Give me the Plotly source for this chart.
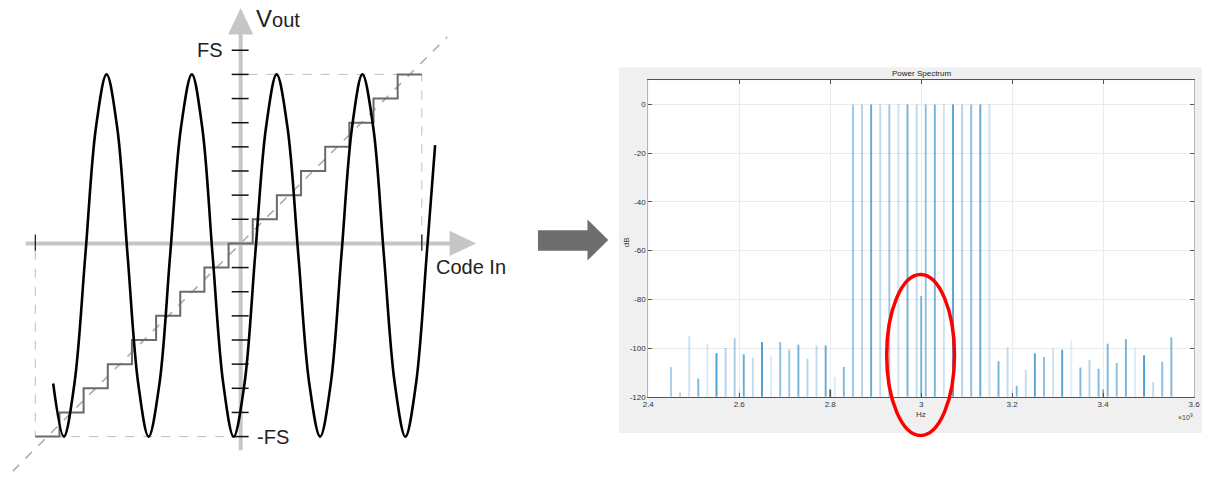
import plotly.graph_objects as go

W, H = 1209, 478

# ---------------- Left diagram (units = 1 LSB) ----------------
codes = list(range(-8, 8))              # quantizer output codes
fs_level = 8                            # FS tick level
tick_levels = [c for c in codes if c != 0] + [fs_level]

# sine wave (x, y in LSB units)
wave_x = [-7.76, -7.32, -6.88, -6.43, -5.99, -5.55, -5.11, -4.68, -4.24, -3.81,
          -3.36, -2.92, -2.47, -2.02, -1.59, -1.16, -0.72, -0.29, 0.16, 0.60,
          1.05, 1.49, 1.94, 2.39, 2.84, 3.29, 3.73, 4.17, 4.61, 5.04,
          5.49, 5.93, 6.38, 6.82, 7.26, 7.70, 8.05]
wave_y = [-5.80, -8.00, -5.80, -0.50, 4.80, 7.00, 4.80, -0.50, -5.80, -8.00,
          -5.80, -0.50, 4.80, 7.00, 4.80, -0.50, -5.80, -8.00, -5.80, -0.50,
          4.80, 7.00, 4.80, -0.50, -5.80, -8.00, -5.80, -0.50, 4.80, 7.00,
          4.80, -0.50, -5.80, -8.00, -5.80, -0.50, 4.07]

# ---------------- Power spectrum (x in 1e9 Hz, y in dB) ----------------
tone_freqs = [2.85, 2.87, 2.89, 2.91, 2.93, 2.95, 2.97, 2.99,
              3.01, 3.03, 3.05, 3.07, 3.09, 3.11, 3.13, 3.15]
tone_db = [0] * 16
tone_alpha = [0.4, 0.3, 0.6, 0.25, 0.4, 0.2, 0.55, 0.25,
              0.45, 0.55, 0.2, 0.65, 0.3, 0.45, 0.6, 0.2]

spur_freqs_lo = [2.45, 2.47, 2.49, 2.51, 2.53, 2.55, 2.57, 2.59, 2.61, 2.63,
                 2.65, 2.67, 2.69, 2.71, 2.73, 2.75, 2.77, 2.79, 2.81, 2.83]
spur_db_lo = [-107.8, -118.2, -94.9, -112.5, -98.3, -102.1, -100.0, -96.0, -102.5, -104.0,
              -97.5, -103.3, -97.5, -100.7, -98.6, -104.4, -98.9, -98.9, -111.9, -107.8]
spur_alpha_lo = [0.35, 0.3, 0.2, 0.5, 0.15, 0.7, 0.3, 0.35, 0.6, 0.25,
                 0.7, 0.15, 0.45, 0.4, 0.55, 0.3, 0.25, 0.6, 0.15, 0.5]

spur_freqs_hi = [3.17, 3.19, 3.21, 3.23, 3.25, 3.27, 3.29, 3.31, 3.33, 3.35,
                 3.37, 3.39, 3.41, 3.43, 3.45, 3.47, 3.49, 3.51, 3.53, 3.55]
spur_db_hi = [-105.4, -99.7, -115.5, -109.0, -102.1, -103.7, -100.2, -100.7, -96.7, -108.0,
              -105.0, -108.5, -98.2, -106.1, -96.4, -100.2, -102.9, -113.9, -105.6, -95.6]
spur_alpha_hi = [0.55, 0.25, 0.5, 0.25, 0.65, 0.45, 0.2, 0.65, 0.12, 0.5,
                 0.3, 0.5, 0.5, 0.45, 0.55, 0.15, 0.7, 0.25, 0.45, 0.5]

center_freq = [3.0]
center_db = [-78.6]

faint_freqs = [2.6, 3.2]
faint_db = [-116.7, -117.0]
gray_freqs = [2.8, 3.4]
gray_db = [-117.0, -117.0]

x_ticks = [2.4, 2.6, 2.8, 3.0, 3.2, 3.4, 3.6]
x_ticktext = ["2.4", "2.6", "2.8", "3", "3.2", "3.4", "3.6"]
y_ticks = [-120, -100, -80, -60, -40, -20, 0]
y_ticktext = ["-120", "-100", "-80", "-60", "-40", "-20", "0"]
y_floor = -120

# ---------------- helpers ----------------
def px(x):
    return x / W

def py(y):
    return 1 - y / H

LSB = 24.4           # pixel size of one LSB in the diagram
CX, CY = 237, 246    # diagram origin in pixels
AXIS_GRAY = "#c6c6c6"
FONT = "Liberation Sans, Arial, sans-serif"

fig = go.Figure()

def seg_trace(segs, color, width, dash=None):
    xs, ys = [], []
    for (x0, y0, x1, y1) in segs:
        xs += [x0, x1, None]
        ys += [y0, y1, None]
    return go.Scatter(x=xs, y=ys, mode="lines", xaxis="x", yaxis="y",
                      line=dict(color=color, width=width, dash=dash),
                      hoverinfo="skip", showlegend=False)

lo, hi = codes[0], codes[-1]
# diagonal ideal line
fig.add_trace(seg_trace([(-9.43, -9.43, 8.55, 8.55)], "#a8a8a8", 1.5, "dash"))
# dashed boxes
fig.add_trace(seg_trace([(lo - 0.5, -0.3, lo - 0.5, lo), (lo - 0.5, lo, -0.3, lo),
                         (hi + 0.5, 0, hi + 0.5, hi), (0.33, hi, hi + 0.5, hi)],
                        "#bdbdbd", 1, "dash"))
# axes (thick gray)
fig.add_trace(seg_trace([(-8.9, 0, 8.7, 0)], AXIS_GRAY, 4))
fig.add_trace(seg_trace([(0, -8.57, 0, 8.7)], AXIS_GRAY, 4))
# arrowheads
fig.add_trace(go.Scatter(x=[8.65, 9.75, 8.65, 8.65], y=[0.52, 0, -0.52, 0.52], mode="lines",
                         fill="toself", fillcolor=AXIS_GRAY, line=dict(width=0, color=AXIS_GRAY),
                         xaxis="x", yaxis="y", hoverinfo="skip", showlegend=False))
fig.add_trace(go.Scatter(x=[-0.52, 0, 0.52, -0.52], y=[8.65, 9.75, 8.65, 8.65], mode="lines",
                         fill="toself", fillcolor=AXIS_GRAY, line=dict(width=0, color=AXIS_GRAY),
                         xaxis="x", yaxis="y", hoverinfo="skip", showlegend=False))
# ticks on vertical axis
fig.add_trace(seg_trace([(-0.37, t, 0.33, t) for t in tick_levels], "#111111", 1.5))
# end ticks on horizontal axis
fig.add_trace(seg_trace([(lo - 0.5, -0.3, lo - 0.5, 0.37), (hi + 0.5, -0.3, hi + 0.5, 0.37)],
                        "#111111", 1.2))
# staircase
stair_x = [c - 0.5 for c in codes] + [codes[-1] + 0.5]
stair_y = codes + [codes[-1]]
fig.add_trace(go.Scatter(x=stair_x, y=stair_y, mode="lines", line_shape="hv",
                         line=dict(color="#6a6a6a", width=2), xaxis="x", yaxis="y",
                         hoverinfo="skip", showlegend=False))
# sine wave
fig.add_trace(go.Scatter(x=wave_x, y=wave_y, mode="lines", line_shape="spline",
                         line=dict(color="#000000", width=2.6, smoothing=1.0),
                         xaxis="x", yaxis="y", hoverinfo="skip", showlegend=False))

# ---- spectrum bars ----
def bars(freqs, dbs, colors):
    return go.Bar(x=freqs, y=[d - y_floor for d in dbs], base=y_floor, width=0.0042,
                  marker=dict(color=colors, line=dict(width=0)),
                  xaxis="x2", yaxis="y2", hoverinfo="skip", showlegend=False)

def blue(a):
    return f"rgba(0,114,189,{a})"

fig.add_trace(bars(faint_freqs, faint_db, [blue(0.12)] * len(faint_freqs)))
fig.add_trace(bars(gray_freqs, gray_db, ["rgba(60,60,60,0.8)", "rgba(60,60,60,0.45)"]))
fig.add_trace(bars(spur_freqs_lo, spur_db_lo, [blue(a) for a in spur_alpha_lo]))
fig.add_trace(bars(spur_freqs_hi, spur_db_hi, [blue(a) for a in spur_alpha_hi]))
fig.add_trace(bars(tone_freqs, tone_db, [blue(a) for a in tone_alpha]))
fig.add_trace(bars(center_freq, center_db, [blue(0.5)]))

# ---------------- layout ----------------
pl_x0, pl_x1, pl_y0, pl_y1 = 648.7, 1200.0, 81.0, 401.0

shapes = [
    dict(type="rect", xref="paper", yref="paper", x0=px(619), x1=px(1208), y0=py(437.5), y1=py(68),
         fillcolor="#f0f0f0", line=dict(width=0), layer="below"),
    dict(type="rect", xref="paper", yref="paper", x0=px(pl_x0), x1=px(pl_x1), y0=py(pl_y1), y1=py(pl_y0),
         fillcolor="#ffffff", line=dict(width=0), layer="below"),
    dict(type="path", xref="paper", yref="paper",
         path=(f"M {px(537.3)},{py(232.7)} L {px(587.3)},{py(232.7)} L {px(587.3)},{py(221.7)} "
               f"L {px(608.3)},{py(242.5)} L {px(587.3)},{py(263.3)} L {px(587.3)},{py(253.3)} "
               f"L {px(537.3)},{py(253.3)} Z"),
         fillcolor="#6e6e6e", line=dict(width=0)),
    dict(type="circle", xref="paper", yref="paper", x0=px(889.5), x1=px(958), y0=py(440), y1=py(277.5),
         line=dict(color="#ff0000", width=3.5)),
]

annotations = [
    dict(text="V<span style='font-size:20px'>out</span>", x=(250 - CX) / LSB, y=(CY - 19) / LSB,
         xref="x", yref="y", showarrow=False, xanchor="left", yanchor="middle",
         font=dict(size=24, color="#222", family=FONT)),
    dict(text="FS", x=(221 - CX) / LSB, y=fs_level, xref="x", yref="y", showarrow=False,
         xanchor="right", yanchor="middle", font=dict(size=20, color="#222", family=FONT)),
    dict(text="-FS", x=(251 - CX) / LSB, y=codes[0], xref="x", yref="y", showarrow=False,
         xanchor="left", yanchor="middle", font=dict(size=20, color="#222", family=FONT)),
    dict(text="Code In", x=(432 - CX) / LSB, y=(CY - 270) / LSB, xref="x", yref="y", showarrow=False,
         xanchor="left", yanchor="middle", font=dict(size=20, color="#222", family=FONT)),
    dict(text="Power Spectrum", x=px(925), y=py(74), xref="paper", yref="paper", showarrow=False,
         xanchor="center", yanchor="middle", font=dict(size=8, color="#222", family=FONT)),
    dict(text="dB", x=px(627), y=py(245), xref="paper", yref="paper", showarrow=False, textangle=-90,
         xanchor="center", yanchor="middle", font=dict(size=8, color="#333", family=FONT)),
    dict(text="Hz", x=px(924), y=py(419), xref="paper", yref="paper", showarrow=False,
         xanchor="center", yanchor="middle", font=dict(size=8, color="#333", family=FONT)),
    dict(text="×10<sup>9</sup>", x=px(1191), y=py(421), xref="paper", yref="paper", showarrow=False,
         xanchor="center", yanchor="middle", font=dict(size=7, color="#444", family=FONT)),
]

fig.update_layout(
    width=W, height=H, margin=dict(l=0, r=0, t=0, b=0),
    paper_bgcolor="#ffffff", plot_bgcolor="rgba(0,0,0,0)",
    barmode="overlay", showlegend=False,
    shapes=shapes, annotations=annotations,
    xaxis=dict(domain=[0, 520 / W], range=[(0 - CX) / LSB, (520 - CX) / LSB], visible=False,
               fixedrange=True),
    yaxis=dict(domain=[0, 1], range=[(CY - H) / LSB, CY / LSB], visible=False, fixedrange=True),
    xaxis2=dict(domain=[px(pl_x0), px(pl_x1)], range=[2.4, 3.6], anchor="y2",
                tickmode="array", tickvals=x_ticks, ticktext=x_ticktext,
                ticks="inside", ticklen=4, tickcolor="#555", tickwidth=1,
                showline=True, linecolor="#555", linewidth=1, mirror="ticks",
                showgrid=True, gridcolor="#ebebeb", zeroline=False,
                tickfont=dict(size=8, color="#333", family=FONT)),
    yaxis2=dict(domain=[py(pl_y1), py(pl_y0)], range=[-120, 10], anchor="x2",
                tickmode="array", tickvals=y_ticks, ticktext=y_ticktext,
                ticks="inside", ticklen=4, tickcolor="#555", tickwidth=1,
                showline=True, linecolor="#b5b5b5", linewidth=1, mirror="ticks",
                showgrid=True, gridcolor="#ebebeb", zeroline=False,
                tickfont=dict(size=8, color="#333", family=FONT)),
)

fig.write_html("out.html", config={"displayModeBar": False},
               post_script="document.body.style.margin='0';document.body.style.overflow='hidden';")
